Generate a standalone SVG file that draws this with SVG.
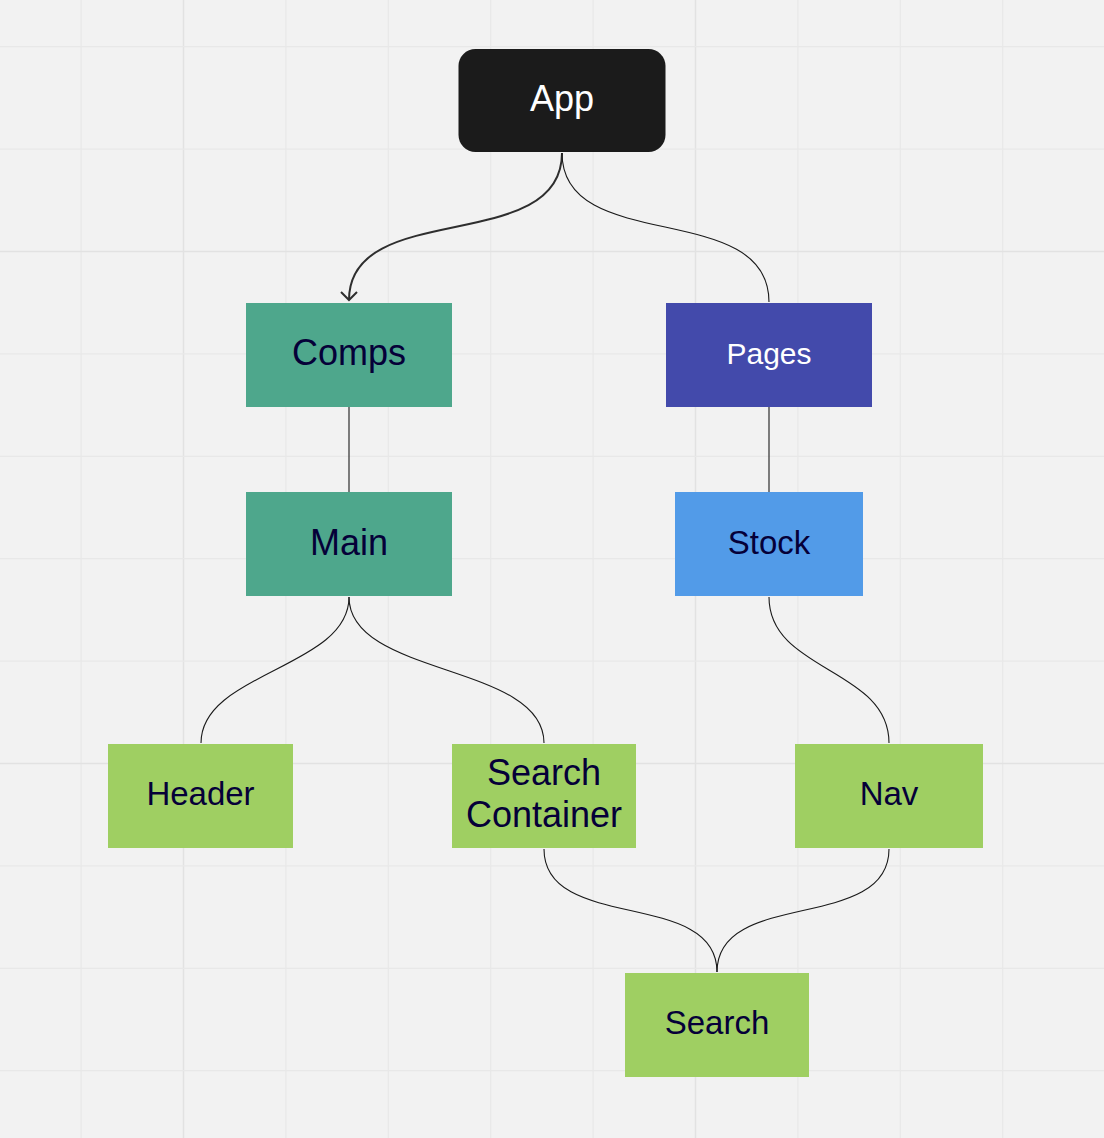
<svg xmlns="http://www.w3.org/2000/svg" width="1104" height="1138" viewBox="0 0 1104 1138">
  <defs>
    <style>
      .grid { stroke: #e8e8e8; stroke-width: 1.2; }
      .grid-major { stroke: #e2e2e2; stroke-width: 1.4; }
      .label { font-family: "Liberation Sans", Arial, sans-serif; text-anchor: middle; fill: #050038; }
      .light { fill: #ffffff; }
      .teal { fill: #4ea78c; }
      .indigo { fill: #434aab; }
      .sky { fill: #529be8; }
      .lime { fill: #9fcf62; }
      .edge { fill: none; stroke: #1a1a1a; stroke-width: 1.1; }
      .edge-bold { fill: none; stroke: #2e2e2e; stroke-width: 2; }
    </style>
    <marker id="open-arrow" viewBox="-10 -10 20 20" markerWidth="20" markerHeight="20" refX="0" refY="0" orient="auto" markerUnits="userSpaceOnUse">
      <path d="M -8 -8 L 0 0 L -8 8" fill="none" stroke="#2e2e2e" stroke-width="2" stroke-linejoin="miter"/>
    </marker>
  </defs>

  <!-- canvas background and grid -->
  <rect x="0" y="0" width="1104" height="1138" fill="#f2f2f2"/>
  <g id="grid">
    <line class="grid" x1="81.1" y1="0" x2="81.1" y2="1138"/>
    <line class="grid-major" x1="183.5" y1="0" x2="183.5" y2="1138"/>
    <line class="grid" x1="285.9" y1="0" x2="285.9" y2="1138"/>
    <line class="grid" x1="388.3" y1="0" x2="388.3" y2="1138"/>
    <line class="grid" x1="490.7" y1="0" x2="490.7" y2="1138"/>
    <line class="grid" x1="593.1" y1="0" x2="593.1" y2="1138"/>
    <line class="grid-major" x1="695.5" y1="0" x2="695.5" y2="1138"/>
    <line class="grid" x1="797.9" y1="0" x2="797.9" y2="1138"/>
    <line class="grid" x1="900.3" y1="0" x2="900.3" y2="1138"/>
    <line class="grid" x1="1002.7" y1="0" x2="1002.7" y2="1138"/>
    <line class="grid" x1="0" y1="46.7" x2="1104" y2="46.7"/>
    <line class="grid" x1="0" y1="149.1" x2="1104" y2="149.1"/>
    <line class="grid-major" x1="0" y1="251.5" x2="1104" y2="251.5"/>
    <line class="grid" x1="0" y1="353.9" x2="1104" y2="353.9"/>
    <line class="grid" x1="0" y1="456.3" x2="1104" y2="456.3"/>
    <line class="grid" x1="0" y1="558.7" x2="1104" y2="558.7"/>
    <line class="grid" x1="0" y1="661.1" x2="1104" y2="661.1"/>
    <line class="grid-major" x1="0" y1="763.5" x2="1104" y2="763.5"/>
    <line class="grid" x1="0" y1="865.9" x2="1104" y2="865.9"/>
    <line class="grid" x1="0" y1="968.3" x2="1104" y2="968.3"/>
    <line class="grid" x1="0" y1="1070.7" x2="1104" y2="1070.7"/>
  </g>

  <!-- connectors -->
  <g id="connectors">
    <path class="edge-bold" d="M 562 153 C 562 256 349 198 349 300" marker-end="url(#open-arrow)"/>
    <path class="edge" d="M 562 153 C 562 256 769 198 769 302"/>
    <path class="edge" d="M 349 407 L 349 492"/>
    <path class="edge" d="M 769 407 L 769 492"/>
    <path class="edge" d="M 349 597 C 349 668 201 672 201 743"/>
    <path class="edge" d="M 349 597 C 349 677 544 663 544 743"/>
    <path class="edge" d="M 769 597 C 769 672 889 668 889 743"/>
    <path class="edge" d="M 544 849 C 544 933 717 888 717 972"/>
    <path class="edge" d="M 889 849 C 889 933 717 888 717 972"/>
  </g>

  <!-- nodes -->
  <g id="node-app">
    <rect x="458.5" y="49" width="207" height="103" rx="17" fill="#1b1b1b"/>
    <text class="label light" x="562" y="110.5" font-size="36">App</text>
  </g>
  <g id="node-comps">
    <rect class="teal" x="246" y="303" width="206" height="104"/>
    <text class="label" x="349" y="365" font-size="36">Comps</text>
  </g>
  <g id="node-pages">
    <rect class="indigo" x="666" y="303" width="206" height="104"/>
    <text class="label light" x="769" y="363.5" font-size="30">Pages</text>
  </g>
  <g id="node-main">
    <rect class="teal" x="246" y="492" width="206" height="104"/>
    <text class="label" x="349" y="555" font-size="36">Main</text>
  </g>
  <g id="node-stock">
    <rect class="sky" x="675" y="492" width="188" height="104"/>
    <text class="label" x="769" y="553.5" font-size="33">Stock</text>
  </g>
  <g id="node-header">
    <rect class="lime" x="108" y="744" width="185" height="104"/>
    <text class="label" x="200.5" y="805" font-size="33">Header</text>
  </g>
  <g id="node-search-container">
    <rect class="lime" x="452" y="744" width="184" height="104"/>
    <text class="label" x="544" y="785" font-size="36">Search</text>
    <text class="label" x="544" y="826.5" font-size="36">Container</text>
  </g>
  <g id="node-nav">
    <rect class="lime" x="795" y="744" width="188" height="104"/>
    <text class="label" x="889" y="804.5" font-size="33">Nav</text>
  </g>
  <g id="node-search">
    <rect class="lime" x="625" y="973" width="184" height="104"/>
    <text class="label" x="717" y="1034" font-size="33">Search</text>
  </g>
</svg>
